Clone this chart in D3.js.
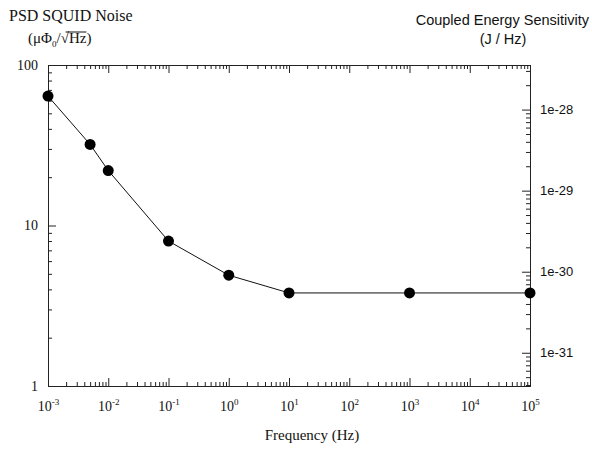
<!DOCTYPE html>
<html><head><meta charset="utf-8">
<script src="https://cdn.jsdelivr.net/npm/d3@7"></script>
<style>
body{margin:0;background:#fff;}
svg{display:block;}
.serif{font-family:"Liberation Serif","Times New Roman",serif;}
.sans{font-family:"Liberation Sans",Arial,sans-serif;}
</style></head>
<body>
<svg id="chart" width="592" height="449"></svg>
<script>
// ---- data ----
const frequencies = [0.001, 0.005, 0.01, 0.1, 1, 10, 1000, 100000];
const noiseValues = [64, 32, 22, 8, 4.9, 3.8, 3.8, 3.8];
const xTickExponents = [-3, -2, -1, 0, 1, 2, 3, 4, 5];
const yTickValues = [1, 10, 100];
const yTickLabels = ["1", "10", "100"];
const rightTickValues = [1e-28, 1e-29, 1e-30, 1e-31];
const rightTickLabels = ["1e-28", "1e-29", "1e-30", "1e-31"];

(function(){
const svg = d3.select("#chart");
const pLeft = 48, pRight = 530, pTop = 65, pBottom = 386;

const x = d3.scaleLog().domain([1e-3, 1e5]).range([pLeft, pRight]);
const y = d3.scaleLog().domain([1, 100]).range([pBottom, pTop]);
const yR = d3.scaleLog().domain([Math.pow(10, -31.41), Math.pow(10, -27.45)]).range([pBottom, pTop]);

function minorTicks(lo, hi) {
  const out = [];
  for (let e = Math.floor(Math.log10(lo)); e <= Math.ceil(Math.log10(hi)); e++) {
    for (let m = 2; m <= 9; m++) {
      const v = m * Math.pow(10, e);
      if (v > lo * 1.0001 && v < hi * 0.9999) out.push(v);
    }
  }
  return out;
}

const axisColor = "#222";
function styleAxis(g) {
  g.selectAll("path.domain").attr("stroke", axisColor).attr("stroke-width", 1);
  g.selectAll("line").attr("stroke", axisColor).attr("stroke-width", 1);
}

const xMajor = xTickExponents.map(e => Math.pow(10, e));
const gB = svg.append("g").attr("transform", `translate(0,${pBottom})`)
  .call(d3.axisBottom(x).tickValues(xMajor).tickSize(-8).tickPadding(12).tickFormat(() => ""));
svg.append("g").attr("transform", `translate(0,${pBottom})`)
  .call(d3.axisBottom(x).tickValues(minorTicks(1e-3, 1e5)).tickSize(-4).tickFormat(() => ""))
  .call(g => g.select(".domain").remove()).call(styleAxis);
styleAxis(gB);
svg.append("g").attr("transform", `translate(0,${pTop})`)
  .call(d3.axisTop(x).tickValues(xMajor).tickSize(-8).tickFormat(() => "")).call(styleAxis);
svg.append("g").attr("transform", `translate(0,${pTop})`)
  .call(d3.axisTop(x).tickValues(minorTicks(1e-3, 1e5)).tickSize(-4).tickFormat(() => ""))
  .call(g => g.select(".domain").remove()).call(styleAxis);

gB.selectAll(".tick text").remove();
gB.selectAll(".tick").each(function(d, i) {
  const t = d3.select(this).append("text").attr("class", "serif")
    .attr("y", 25).attr("fill", "#111").attr("font-size", 14).attr("text-anchor", "middle");
  t.append("tspan").text("10");
  t.append("tspan").attr("dy", -6).attr("font-size", 9).text(String(xTickExponents[i]));
});

const gL = svg.append("g").attr("transform", `translate(${pLeft},0)`)
  .call(d3.axisLeft(y).tickValues(yTickValues).tickSize(-8).tickPadding(10)
    .tickFormat((d, i) => yTickLabels[i]));
svg.append("g").attr("transform", `translate(${pLeft},0)`)
  .call(d3.axisLeft(y).tickValues(minorTicks(1, 100)).tickSize(-4).tickFormat(() => ""))
  .call(g => g.select(".domain").remove()).call(styleAxis);
styleAxis(gL);
gL.selectAll("text").attr("class", "serif").attr("font-size", 14).attr("fill", "#111");

const gR = svg.append("g").attr("transform", `translate(${pRight},0)`)
  .call(d3.axisRight(yR).tickValues(rightTickValues).tickSize(-8).tickPadding(10)
    .tickFormat((d, i) => rightTickLabels[i]));
svg.append("g").attr("transform", `translate(${pRight},0)`)
  .call(d3.axisRight(yR).tickValues(minorTicks(yR.domain()[0], yR.domain()[1])).tickSize(-4).tickFormat(() => ""))
  .call(g => g.select(".domain").remove()).call(styleAxis);
styleAxis(gR);
gR.selectAll("text").attr("class", "sans").attr("font-size", 13).attr("fill", "#111");

const pts = frequencies.map((f, i) => [f, noiseValues[i]]);
svg.append("path").datum(pts)
  .attr("fill", "none").attr("stroke", "#111").attr("stroke-width", 1)
  .attr("d", d3.line().x(d => x(d[0])).y(d => y(d[1])));
svg.append("g").selectAll("circle").data(pts).join("circle")
  .attr("cx", d => x(d[0])).attr("cy", d => y(d[1])).attr("r", 5.5).attr("fill", "#000");

svg.append("text").attr("class", "serif").attr("x", 9).attr("y", 21)
  .attr("font-size", 16).attr("fill", "#111").text("PSD SQUID Noise");
const unit = svg.append("text").attr("class", "serif").attr("x", 28).attr("y", 43)
  .attr("font-size", 15).attr("fill", "#111");
unit.append("tspan").text("(μΦ");
unit.append("tspan").attr("dy", 4).attr("font-size", 9).text("0");
unit.append("tspan").attr("dy", -4).text("/√Hz)");
try {
  const node = unit.node();
  const txt = node.textContent;
  const iH = txt.indexOf("Hz");
  const a = node.getExtentOfChar(iH), b = node.getExtentOfChar(iH + 1);
  const r = node.getExtentOfChar(iH - 1);
  svg.append("line").attr("x1", r.x + r.width * 0.6).attr("x2", b.x + b.width)
    .attr("y1", a.y + 2).attr("y2", a.y + 2).attr("stroke", "#111").attr("stroke-width", 1);
} catch (e) {}

svg.append("text").attr("class", "sans").attr("x", 589).attr("y", 25)
  .attr("text-anchor", "end").attr("font-size", 14.5).attr("fill", "#111").text("Coupled Energy Sensitivity");
svg.append("text").attr("class", "sans").attr("x", 503).attr("y", 44)
  .attr("text-anchor", "middle").attr("font-size", 14.5).attr("fill", "#111").text("(J / Hz)");

svg.append("text").attr("class", "serif").attr("x", 312).attr("y", 440)
  .attr("text-anchor", "middle").attr("font-size", 15).attr("fill", "#111").text("Frequency (Hz)");
})();
</script>
</body></html>
